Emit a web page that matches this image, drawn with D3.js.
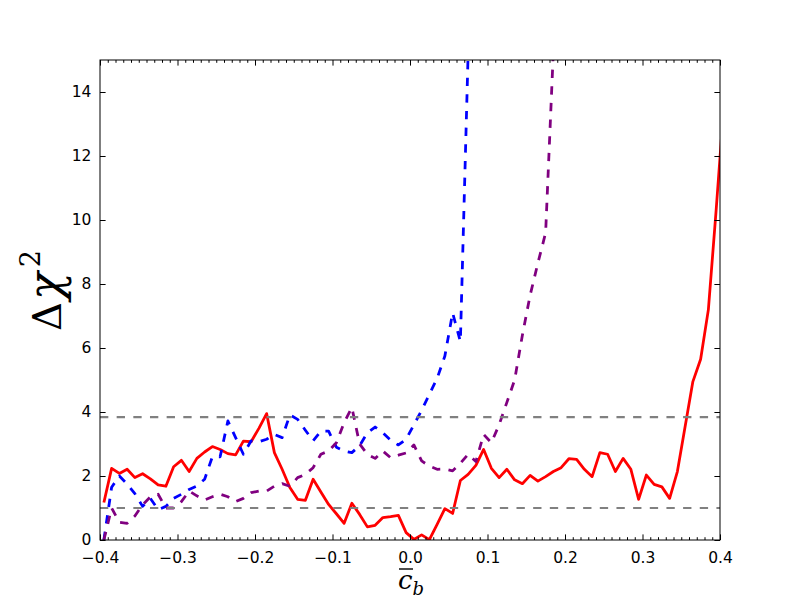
<!DOCTYPE html>
<html>
<head>
<meta charset="utf-8">
<script src="https://cdn.jsdelivr.net/npm/d3@7"></script>
<style>
  html, body { margin: 0; padding: 0; background: #ffffff; }
  svg { display: block; }
  .tick text { font-family: "DejaVu Sans", sans-serif; font-size: 15.5px; fill: #000; }
</style>
</head>
<body>
<svg id="chart" width="800" height="600"></svg>
<script>
// ---- data ----
const cb = [-0.395,-0.385,-0.375,-0.365,-0.355,-0.345,-0.335,-0.325,-0.315,-0.305,
  -0.295,-0.285,-0.275,-0.265,-0.255,-0.245,-0.235,-0.225,-0.215,-0.205,
  -0.195,-0.185,-0.175,-0.165,-0.155,-0.145,-0.135,-0.125,-0.115,-0.105,
  -0.095,-0.085,-0.075,-0.065,-0.055,-0.045,-0.035,-0.025,-0.015,-0.005,
  0.005,0.015,0.025,0.035,0.045,0.055,0.065,0.075,0.085,0.095,
  0.105,0.115,0.125,0.135,0.145,0.155,0.165,0.175,0.185,0.195,
  0.205,0.215,0.225,0.235,0.245,0.255,0.265,0.275,0.285,0.295,
  0.305,0.315,0.325,0.335,0.345,0.355,0.365,0.375,0.385,0.395,0.405];

const redChi2 = [1.17,2.24,2.08,2.21,1.95,2.07,1.91,1.72,1.68,2.29,
  2.49,2.14,2.55,2.75,2.92,2.83,2.70,2.66,3.09,3.07,
  3.49,3.95,2.73,2.21,1.64,1.27,1.24,1.90,1.50,1.11,
  0.82,0.52,1.15,0.80,0.41,0.46,0.70,0.73,0.77,0.23,
  0.02,0.16,0.01,0.49,0.98,0.83,1.86,2.05,2.33,2.83,
  2.24,1.95,2.21,1.88,1.76,2.02,1.84,1.98,2.14,2.26,
  2.54,2.52,2.21,1.98,2.73,2.68,2.14,2.55,2.21,1.27,
  2.03,1.74,1.66,1.30,2.14,3.55,4.95,5.65,7.2,10.3,13.6];

const blueChi2 = [0.0,1.65,2.0,1.75,1.45,1.05,1.3,0.95,1.05,1.3,
  1.43,1.58,1.69,1.9,2.6,2.6,3.72,3.2,2.68,3.1,
  3.07,3.15,3.3,3.2,3.91,3.77,3.43,3.1,3.4,3.4,
  2.9,2.78,2.73,2.95,3.35,3.53,3.35,3.12,2.97,3.15,
  3.6,4.05,4.55,5.05,5.75,7.1,6.2,15.2,60];

const purpleChi2 = [0.0,1.0,0.55,0.52,0.75,1.1,1.35,1.43,1.0,1.0,
  1.2,1.53,1.38,1.25,1.35,1.43,1.35,1.2,1.3,1.48,
  1.53,1.53,1.68,1.76,1.68,1.95,2.05,2.26,2.68,2.78,
  3.04,3.67,4.14,3.0,2.68,2.55,2.78,2.57,2.65,2.72,
  2.97,2.47,2.31,2.21,2.22,2.16,2.4,2.68,2.45,3.3,
  3.04,3.6,4.3,5.0,6.4,7.65,8.65,9.6,15.3,40];

const refLevels = [1.0, 3.84];
const xTicks = [-0.4,-0.3,-0.2,-0.1,0.0,0.1,0.2,0.3,0.4];
const yTicks = [0,2,4,6,8,10,12,14];
const xDomain = [-0.4, 0.4];
const yDomain = [0, 15];

// ---- layout ----
const mLeft = 100, mRight = 720, mTop = 60, mBottom = 540;
const svg = d3.select("#chart");

const x = d3.scaleLinear().domain(xDomain).range([mLeft, mRight]);
const y = d3.scaleLinear().domain(yDomain).range([mBottom, mTop]);

svg.append("defs").append("clipPath").attr("id", "plotclip")
  .append("rect").attr("x", mLeft).attr("y", mTop)
  .attr("width", mRight - mLeft).attr("height", mBottom - mTop);

const plot = svg.append("g").attr("clip-path", "url(#plotclip)");

const line = d3.line().x(d => x(d[0])).y(d => y(d[1]));
const pairs = arr => arr.map((v, i) => [cb[i], v]);

const series = [
  { data: redChi2, color: "#ff0000", width: 2.78, dash: null },
  { data: blueChi2, color: "#0000ff", width: 2.78, dash: "8.33,8.33" },
  { data: purpleChi2, color: "#800080", width: 2.78, dash: "8.33,8.33" }
];
series.forEach(s => {
  plot.append("path")
    .attr("d", line(pairs(s.data)))
    .attr("fill", "none")
    .attr("stroke", s.color)
    .attr("stroke-width", s.width)
    .attr("stroke-linejoin", "round")
    .attr("stroke-dasharray", s.dash);
});

refLevels.forEach(v => {
  plot.append("line")
    .attr("x1", mLeft).attr("x2", mRight)
    .attr("y1", y(v)).attr("y2", y(v))
    .attr("stroke", "#808080")
    .attr("stroke-width", 2.08)
    .attr("stroke-dasharray", "8.33,8.33");
});

// ---- axes ----
const minorX = d3.range(-40, 41).filter(k => k % 10 !== 0).map(k => k / 100);
const fmtX = d3.format(".1f");
const major = 5.6, minor = 2.8;

function styleAxis(g) {
  g.select(".domain").remove();
  g.selectAll(".tick line").attr("stroke", "#000").attr("stroke-width", 1);
}

svg.append("g").attr("transform", `translate(0,${mBottom})`)
  .call(d3.axisBottom(x).tickValues(xTicks).tickFormat(fmtX).tickSize(-major).tickPadding(11.5))
  .call(styleAxis);
svg.append("g").attr("transform", `translate(0,${mBottom})`)
  .call(d3.axisBottom(x).tickValues(minorX).tickFormat("").tickSize(-minor))
  .call(styleAxis);
svg.append("g").attr("transform", `translate(0,${mTop})`)
  .call(d3.axisTop(x).tickValues(xTicks).tickFormat("").tickSize(-major))
  .call(styleAxis);
svg.append("g").attr("transform", `translate(0,${mTop})`)
  .call(d3.axisTop(x).tickValues(minorX).tickFormat("").tickSize(-minor))
  .call(styleAxis);
svg.append("g").attr("transform", `translate(${mLeft},0)`)
  .call(d3.axisLeft(y).tickValues(yTicks).tickFormat(d3.format("d")).tickSize(-major).tickPadding(major + 3))
  .call(styleAxis);
svg.append("g").attr("transform", `translate(${mRight},0)`)
  .call(d3.axisRight(y).tickValues(yTicks).tickFormat("").tickSize(-major))
  .call(styleAxis);

// frame
svg.append("rect")
  .attr("x", mLeft).attr("y", mTop)
  .attr("width", mRight - mLeft).attr("height", mBottom - mTop)
  .attr("fill", "none").attr("stroke", "#000").attr("stroke-width", 1);

// ---- axis labels ----
const xl = svg.append("text")
  .attr("x", 398).attr("y", 589)
  .attr("font-family", "'DejaVu Serif', serif")
  .attr("font-size", 26)
  .attr("fill", "#000");
xl.append("tspan").attr("font-style", "italic").text("c");
xl.append("tspan").attr("font-style", "italic").attr("font-size", 18).attr("dy", 6).text("b");
svg.append("line")
  .attr("x1", 399).attr("x2", 413).attr("y1", 569).attr("y2", 569)
  .attr("stroke", "#000").attr("stroke-width", 1.4);

const yl = svg.append("text")
  .attr("transform", "translate(61,331) rotate(-90)")
  .attr("font-family", "'DejaVu Serif', serif")
  .attr("font-size", 40)
  .attr("fill", "#000");
yl.append("tspan").text("Δ");
yl.append("tspan").attr("font-style", "italic").attr("font-size", 46).attr("dx", 2).text("χ");
yl.append("tspan").attr("font-size", 27).attr("dx", 5).attr("dy", -21).text("2");
</script>
</body>
</html>
